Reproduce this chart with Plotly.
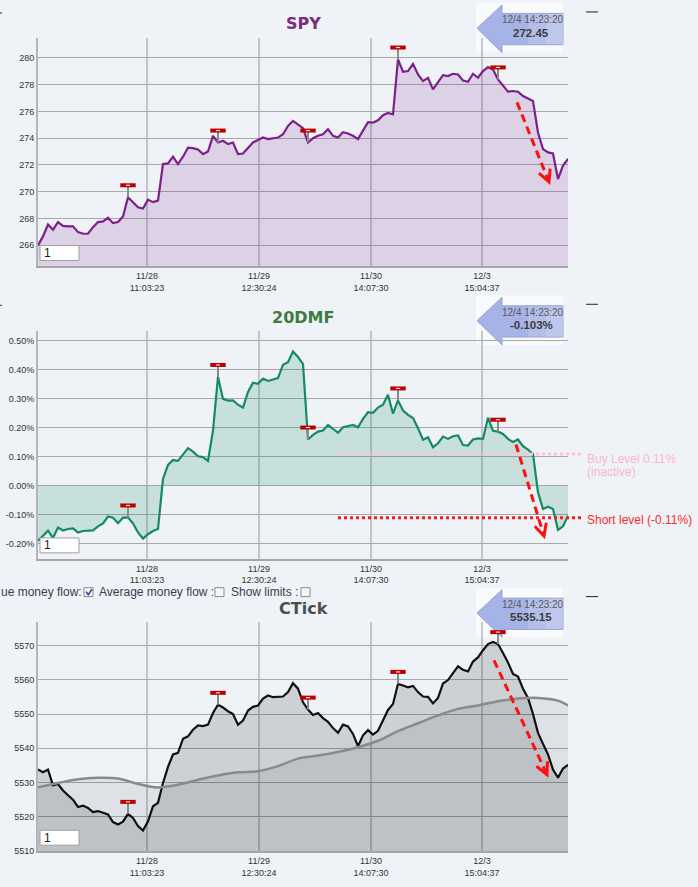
import math
import plotly.graph_objects as go

W, H = 698, 887

# ---------------- data ----------------
spy = [265.98, 266.65, 267.54, 267.15, 267.72, 267.44, 267.40, 267.40, 266.97, 266.85,
       266.85, 267.34, 267.72, 267.77, 268.04, 267.64, 267.72, 268.14, 269.58, 269.21,
       268.83, 268.73, 269.40, 269.21, 269.33, 272.06, 272.11, 272.61, 272.06, 272.61,
       273.28, 273.25, 273.15, 272.80, 273.00, 274.17, 273.67, 273.80, 273.55, 273.67,
       272.80, 272.85, 273.25, 273.67, 273.85, 274.04, 273.92, 273.97, 274.04, 274.29,
       274.91, 275.29, 275.04, 274.74, 273.67, 273.99, 274.17, 274.29, 274.66, 274.17,
       274.04, 274.44, 274.34, 274.17, 273.92, 274.54, 275.19, 275.16, 275.33, 275.71,
       275.88, 275.78, 279.88, 278.96, 279.01, 279.55, 278.76, 278.26, 278.51, 277.64,
       278.14, 278.71, 278.64, 278.81, 278.76, 278.31, 278.21, 278.81, 278.51, 279.01,
       279.31, 279.13, 278.39, 277.89, 277.47, 277.52, 277.47, 277.15, 276.97, 276.77,
       274.42, 273.18, 272.93, 272.85, 270.94, 271.94, 272.45]

dmf = [-0.190, -0.172, -0.155, -0.180, -0.144, -0.154, -0.149, -0.147, -0.161, -0.156,
       -0.155, -0.154, -0.140, -0.130, -0.106, -0.110, -0.129, -0.110, -0.109, -0.130,
       -0.161, -0.182, -0.167, -0.156, -0.149, 0.024, 0.072, 0.089, 0.086, 0.110,
       0.130, 0.118, 0.102, 0.099, 0.086, 0.191, 0.376, 0.300, 0.294, 0.295,
       0.280, 0.270, 0.324, 0.356, 0.352, 0.370, 0.362, 0.367, 0.372, 0.418,
       0.427, 0.464, 0.445, 0.420, 0.160, 0.176, 0.187, 0.191, 0.210, 0.197,
       0.183, 0.202, 0.206, 0.210, 0.202, 0.231, 0.254, 0.252, 0.270, 0.280,
       0.314, 0.249, 0.295, 0.260, 0.245, 0.234, 0.199, 0.159, 0.168, 0.133,
       0.147, 0.170, 0.162, 0.171, 0.174, 0.141, 0.139, 0.160, 0.164, 0.162,
       0.235, 0.190, 0.187, 0.179, 0.162, 0.151, 0.160, 0.137, 0.125, 0.110,
       -0.022, -0.080, -0.072, -0.080, -0.152, -0.140, -0.103]

ctick = [5533.8, 5533.0, 5533.8, 5529.2, 5529.6, 5527.7, 5526.3, 5525.0, 5522.9, 5523.3,
         5522.6, 5521.4, 5521.7, 5521.1, 5520.7, 5518.5, 5517.8, 5518.6, 5520.9, 5519.7,
         5517.3, 5516.0, 5518.7, 5523.1, 5524.1, 5529.9, 5534.6, 5538.2, 5538.7, 5542.8,
         5543.5, 5545.4, 5546.7, 5546.5, 5546.9, 5550.3, 5552.7, 5551.9, 5550.8, 5550.0,
         5546.9, 5548.1, 5551.0, 5552.1, 5552.5, 5554.5, 5555.4, 5554.9, 5555.0, 5555.1,
         5556.4, 5559.0, 5557.4, 5553.4, 5551.3, 5549.7, 5550.3, 5548.8, 5547.7, 5545.9,
         5544.5, 5546.9, 5546.4, 5544.2, 5540.6, 5543.8, 5545.3, 5544.0, 5545.1, 5548.1,
         5551.2, 5552.9, 5558.8, 5558.3, 5557.8, 5558.2, 5556.4, 5555.1, 5555.0, 5553.1,
         5554.7, 5558.9, 5559.9, 5561.9, 5563.9, 5562.9, 5562.4, 5565.3, 5566.5, 5568.6,
         5570.4, 5571.0, 5570.4, 5567.8, 5565.0, 5561.7, 5560.9, 5557.4, 5554.7, 5550.0,
         5544.5, 5541.3, 5538.2, 5533.8, 5531.4, 5534.1, 5535.15]

ma_idx = [0, 4, 8, 12, 16, 20, 24, 28, 32, 36, 40, 44, 48, 52, 56, 60, 64, 68, 72, 76,
          80, 84, 88, 92, 96, 100, 104, 106]
ma_vals = [5528.6, 5529.9, 5531.0, 5531.4, 5531.2, 5529.6, 5528.6, 5529.4, 5530.8, 5532.1,
           5533.0, 5533.3, 5534.8, 5537.0, 5537.9, 5538.9, 5540.3, 5542.2, 5545.0, 5547.3,
           5549.6, 5551.5, 5552.5, 5553.7, 5554.5, 5554.7, 5553.9, 5552.5]

flag_idx = [18, 36, 54, 72, 92]

tick_pos = [21.8, 44.2, 66.6, 88.8]
tick_text = ["11/28<br>11:03:23", "11/29<br>12:30:24", "11/30<br>14:07:30", "12/3<br>15:04:37"]
last_time = "12/4 14:23:20"

spy_ticks = [266, 268, 270, 272, 274, 276, 278, 280]
dmf_ticks = [-0.20, -0.10, 0.00, 0.10, 0.20, 0.30, 0.40, 0.50]
ctick_ticks = [5510, 5520, 5530, 5540, 5550, 5560, 5570]

buy_level = 0.11
short_level = -0.11

# ---------------- helpers ----------------
def X(px):
    return px / W


def Y(py):
    return 1 - py / H


BG = "#eff3f7"
TICKFONT = dict(family="Liberation Sans, Arial, sans-serif", size=9, color="#333333")
xs = list(range(len(spy)))
n = len(spy)
PL, PR = 38, 568

panels = [
    dict(name="SPY", top=38, bottom=268, dy=0, rng=[264.4, 281.5], vals=spy,
         ticks=spy_ticks, ticktext=[str(t) for t in spy_ticks],
         line="#7d1f8c", fill="rgba(128,40,140,0.17)", title_color="#7b2b80",
         label=f"{spy[-1]:.2f}"),
    dict(name="20DMF", top=333, bottom=562, dy=294, rng=[-0.252, 0.534], vals=dmf,
         ticks=dmf_ticks, ticktext=[f"{t:.2f}%" for t in dmf_ticks],
         line="#168a62", fill="rgba(22,138,98,0.18)", title_color="#3f7a3f",
         label=f"{dmf[-1]:.3f}%"),
    dict(name="CTick", top=626, bottom=856, dy=588, rng=[5510, 5576.7], vals=ctick,
         ticks=ctick_ticks, ticktext=[str(t) for t in ctick_ticks],
         line="#111111", fill="rgba(0,0,0,0.14)", title_color="#4d4d4d",
         label=f"{ctick[-1]:.2f}"),
]

fig = go.Figure()
shapes = []
annotations = []
layout_axes = {}


def note(text, x, y, font, xanchor="center", yanchor="middle", **kw):
    d = dict(text=text, x=x, y=y, xref=kw.pop("xref", "paper"), yref=kw.pop("yref", "paper"),
             xanchor=xanchor, yanchor=yanchor, showarrow=False, font=font)
    d.update(kw)
    annotations.append(d)


for k, p in enumerate(panels):
    sfx = "" if k == 0 else str(k + 1)
    xa, ya = "x" + sfx, "y" + sfx
    layout_axes["xaxis" + sfx] = dict(
        domain=[X(PL), X(PR)], range=[0, n - 1], anchor=ya,
        tickvals=tick_pos, ticktext=tick_text, showgrid=True,
        gridcolor="rgba(150,150,160,0.5)", gridwidth=2, showline=True,
        linecolor="#a6a6a6", linewidth=2, ticks="", zeroline=False,
        tickfont=TICKFONT, fixedrange=True)
    layout_axes["yaxis" + sfx] = dict(
        domain=[Y(p["bottom"]), Y(p["top"])], range=p["rng"], anchor=xa,
        tickvals=p["ticks"], ticktext=p["ticktext"], showgrid=True,
        gridcolor="#a8a8ae", gridwidth=1.3, showline=True, linecolor="#b4b4b4",
        linewidth=2, ticks="", zeroline=False, tickfont=TICKFONT, fixedrange=True)

    fig.add_trace(go.Scatter(x=xs, y=p["vals"], mode="lines", xaxis=xa, yaxis=ya,
                             line=dict(color=p["line"], width=2.2),
                             fill="tozeroy", fillcolor=p["fill"]))
    if p["name"] == "CTick":
        fig.add_trace(go.Scatter(x=ma_idx, y=ma_vals, mode="lines", xaxis=xa, yaxis=ya,
                                 line=dict(color="#8a8a8a", width=2.5, shape="spline"),
                                 fill="tozeroy", fillcolor="rgba(0,0,0,0.07)"))

    # flags above chosen points
    unit_per_px = (p["rng"][1] - p["rng"][0]) / (p["bottom"] - p["top"])
    off = 12 * unit_per_px
    fy = [p["vals"][i] + off for i in flag_idx]
    fig.add_trace(go.Scatter(
        x=flag_idx, y=fy, mode="markers", xaxis=xa, yaxis=ya, cliponaxis=False,
        marker=dict(symbol="line-ew", size=11, line=dict(width=4, color="#bb0000")),
        error_y=dict(type="data", symmetric=False, array=[0] * len(flag_idx),
                     arrayminus=[off] * len(flag_idx), color="#8c8c8c",
                     thickness=2, width=0)))
    fig.add_trace(go.Scatter(
        x=flag_idx, y=fy, mode="markers", xaxis=xa, yaxis=ya, cliponaxis=False,
        marker=dict(symbol="line-ew", size=3,
                    line=dict(width=1.2, color="rgba(255,255,255,0.85)"))))

    # title
    note(f"<b>{p['name']}</b>", X(303), Y(p["top"] - 14),
         dict(family="DejaVu Sans", size=16, color=p["title_color"]))

    # hover label arrow box (drawn below the plot content)
    dy = p["dy"]
    shapes.append(dict(type="rect", xref="paper", yref="paper", x0=X(476), x1=X(563),
                       y0=Y(3 + dy), y1=Y(53 + dy), fillcolor="rgba(255,255,255,0.55)",
                       line=dict(width=0), layer="below"))
    pts = [(477, 28.5), (502, 5), (502, 13.5), (563, 13.5), (563, 45), (502, 45), (502, 53)]
    path = "M " + " L ".join(f"{X(a)} {Y(b + dy)}" for a, b in pts) + " Z"
    shapes.append(dict(type="path", xref="paper", yref="paper", path=path,
                       fillcolor="#a6b3e6", line=dict(color="#97a5de", width=1), layer="below"))
    shapes.append(dict(type="rect", xref="paper", yref="paper", x0=X(528), x1=X(563),
                       y0=Y(44.5 + dy), y1=Y(14 + dy), fillcolor="rgba(255,255,255,0.15)",
                       line=dict(width=0), layer="below"))
    shapes.append(dict(type="rect", xref="paper", yref="paper", x0=X(546), x1=X(563),
                       y0=Y(44.5 + dy), y1=Y(14 + dy), fillcolor="rgba(255,255,255,0.15)",
                       line=dict(width=0), layer="below"))
    note(last_time, X(533), Y(20 + dy),
         dict(family="Liberation Sans, Arial", size=10, color="#5a5a5a"))
    note(f"<b>{p['label']}</b>", X(531), Y(33 + dy),
         dict(family="Liberation Sans, Arial", size=11.5, color="#3c3c3c"))
    # little dash marks at the edges
    shapes.append(dict(type="line", xref="paper", yref="paper", x0=X(586), x1=X(598),
                       y0=Y(12 + dy), y1=Y(12 + dy), line=dict(color="#222", width=1)))
    if k < 2:
        shapes.append(dict(type="line", xref="paper", yref="paper", x0=X(0), x1=X(2),
                           y0=Y(13 + dy), y1=Y(13 + dy), line=dict(color="#333", width=1)))

    # "1" input box
    b = p["bottom"]
    shapes.append(dict(type="rect", xref="paper", yref="paper", x0=X(40), x1=X(79),
                       y0=Y(b - 6), y1=Y(b - 21), fillcolor="white",
                       line=dict(color="#a0a0a0", width=1), layer="above"))
    note("1", X(42), Y(b - 13.5),
         dict(family="Liberation Sans, Arial", size=12, color="#222"), xanchor="left")

# ---------------- level lines in 20DMF ----------------
for lvl, col in [(buy_level, "#ffc2cc"), (short_level, "#ff1a1a")]:
    shapes.append(dict(type="line", xref="paper", yref="y2", x0=X(338), x1=X(584),
                       y0=lvl, y1=lvl, line=dict(color=col, width=3, dash="dot"), layer="above"))
lvl_font_buy = dict(family="Liberation Sans, Arial", size=12, color="#f7b9c6")
note(f"Buy Level {buy_level:.2f}%", X(585), buy_level, lvl_font_buy, xanchor="left",
     yref="y2", yshift=-5)
note("(inactive)", X(585), buy_level, lvl_font_buy, xanchor="left", yref="y2", yshift=-18)
note(f"Short level ({short_level:.2f}%)", X(585), short_level,
     dict(family="Liberation Sans, Arial", size=12, color="#ff2a2a"),
     xanchor="left", yref="y2", yshift=-2)

# ---------------- red dashed arrows ----------------
red_arrows = [((517, 103), (549, 183)), ((516, 447), (544, 539)), ((494, 664), (547, 779))]
for (sx, sy), (tx, ty) in red_arrows:
    dx, dyv = tx - sx, ty - sy
    L = math.hypot(dx, dyv)
    ux, uy = dx / L, dyv / L
    shapes.append(dict(type="line", xref="paper", yref="paper", x0=X(sx), y0=Y(sy),
                       x1=X(tx - 3 * ux), y1=Y(ty - 3 * uy),
                       line=dict(color="#ff1010", width=3, dash="8px,5px"), layer="above"))
    w1 = (tx - 12 * ux - 6 * uy, ty - 12 * uy + 6 * ux)
    w2 = (tx - 12 * ux + 6 * uy, ty - 12 * uy - 6 * ux)
    path = f"M {X(w1[0])} {Y(w1[1])} L {X(tx)} {Y(ty)} L {X(w2[0])} {Y(w2[1])}"
    shapes.append(dict(type="path", xref="paper", yref="paper", path=path,
                       line=dict(color="#ff1010", width=3), layer="above"))

# ---------------- checkbox row ----------------
row_font = dict(family="Liberation Sans, Arial", size=12, color="#3c3c50")
for txt, x0 in [("ue money flow:", -1), ("Average money flow :", 97), ("Show limits :", 229)]:
    note(txt, X(x0), Y(595), row_font, xanchor="left")
for bx in [84, 215, 301]:
    shapes.append(dict(type="rect", xref="paper", yref="paper", x0=X(bx), x1=X(bx + 9),
                       y0=Y(591), y1=Y(600), fillcolor="#f6f6f6",
                       line=dict(color="#8a8a8a", width=1)))
shapes.append(dict(type="path", xref="paper", yref="paper",
                   path=f"M {X(86)} {Y(595)} L {X(88.3)} {Y(598)} L {X(92)} {Y(592.5)}",
                   line=dict(color="#2a3a9a", width=1.5)))

fig.update_layout(
    width=W, height=H, margin=dict(l=0, r=0, t=0, b=0),
    paper_bgcolor=BG, plot_bgcolor="rgba(0,0,0,0)", showlegend=False,
    shapes=shapes, annotations=annotations, **layout_axes)

fig.write_html("out.html", config={"displayModeBar": False},
               post_script="document.body.style.margin='0';")
